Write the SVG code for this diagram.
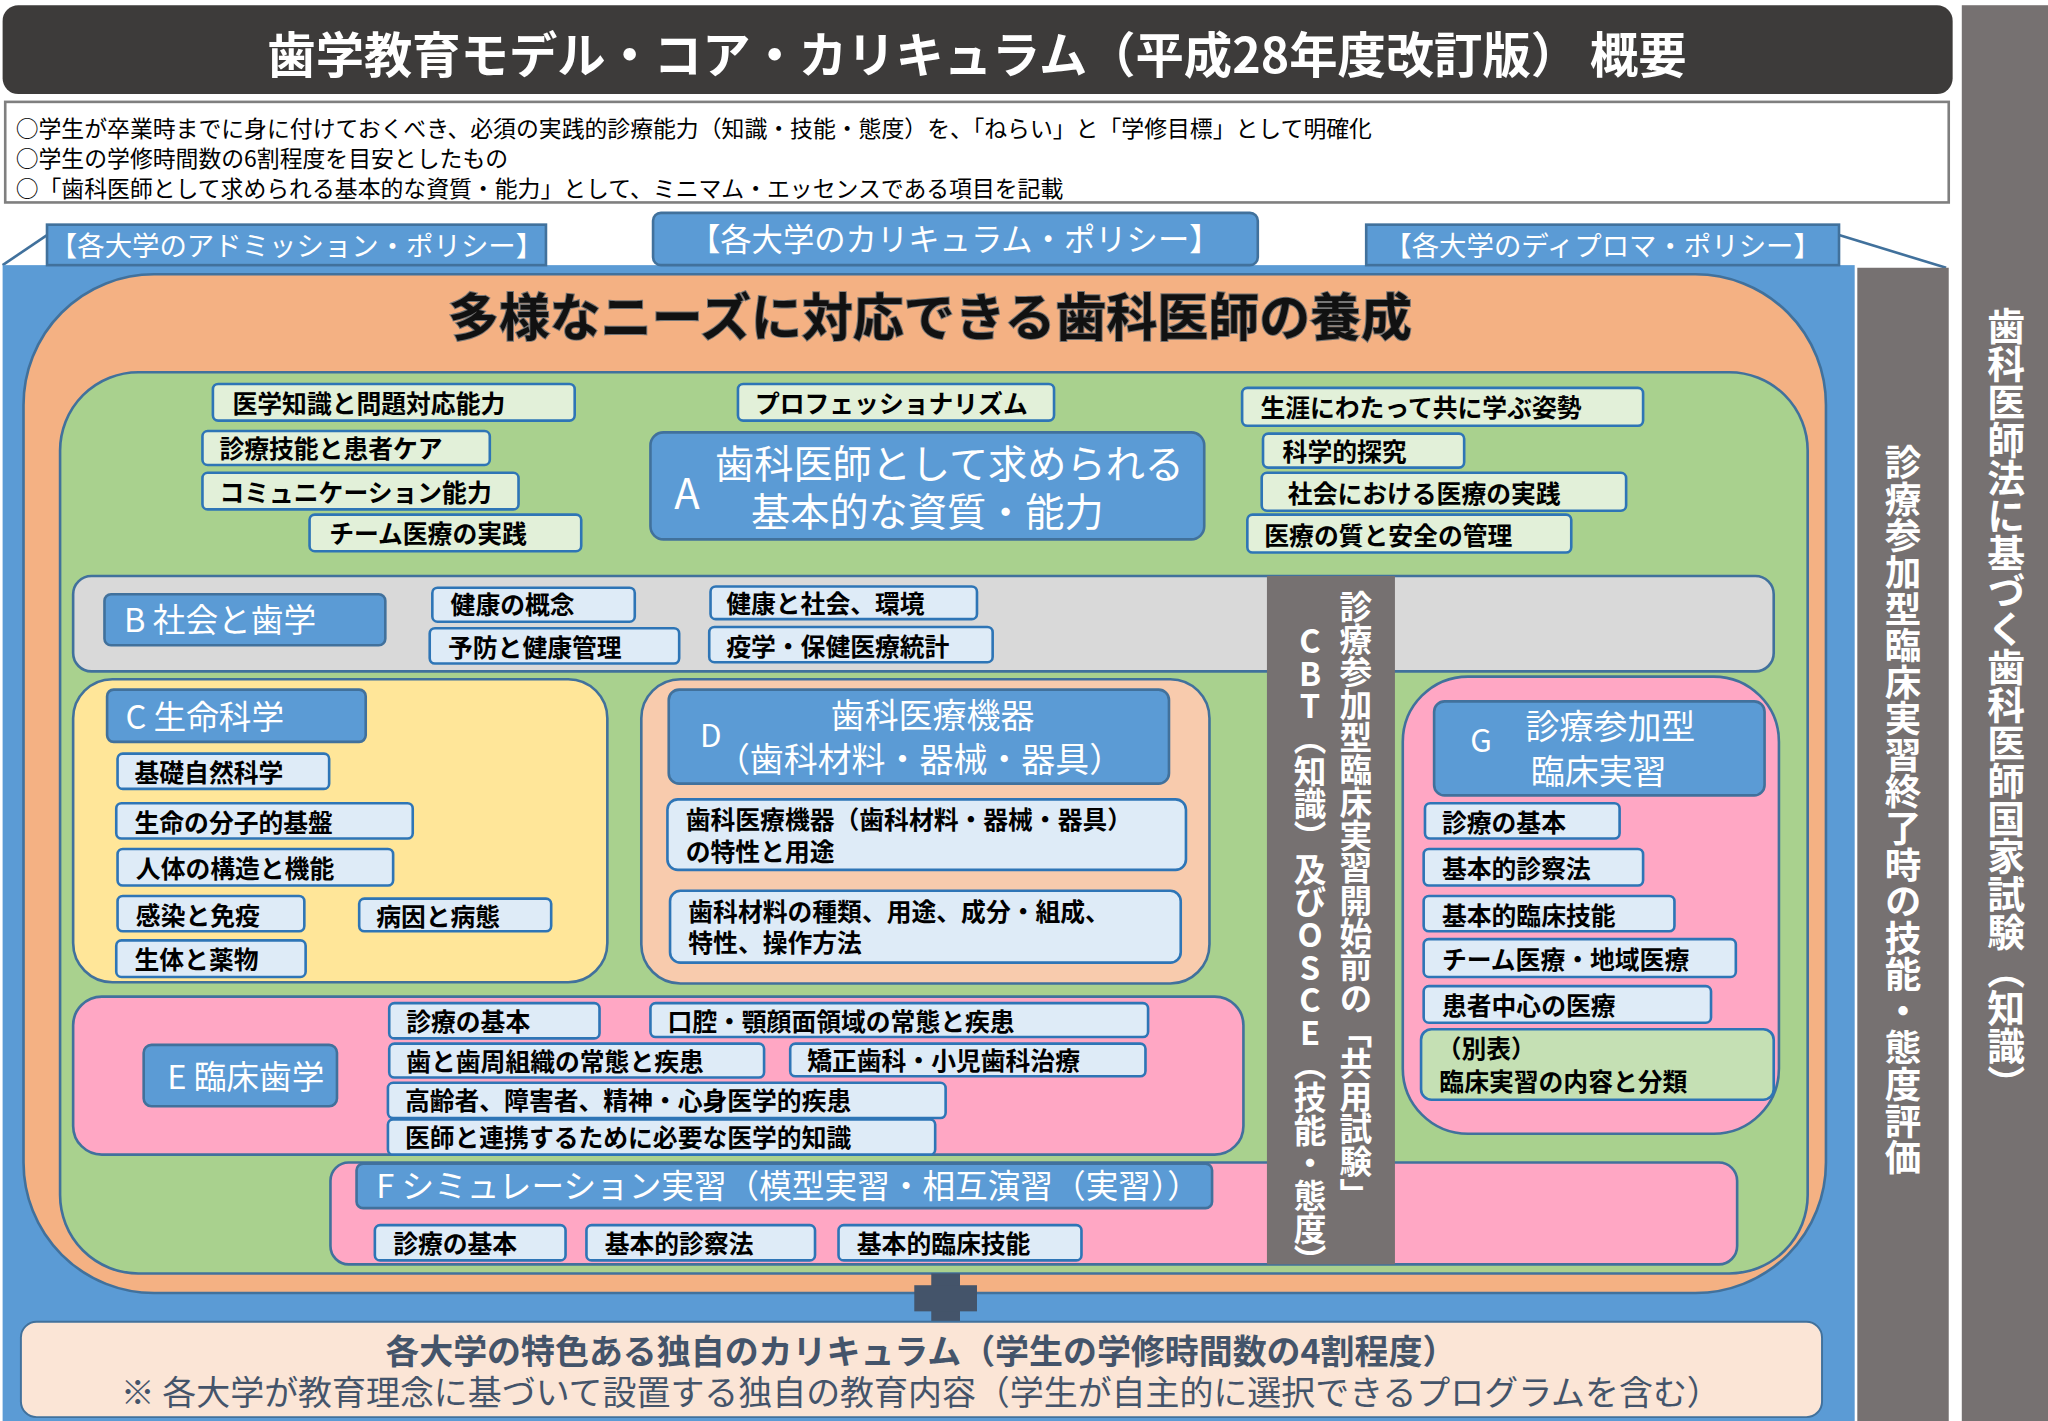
<svg xmlns="http://www.w3.org/2000/svg" width="2048" height="1421" viewBox="0 0 2048 1421">
<style>
text{font-family:"Noto Sans CJK JP","Noto Sans CJK SC",sans-serif}
.it{fill:#deebf7;stroke:#2e75b6;stroke-width:2}
.ig{fill:#e2f0d9;stroke:#2e75b6;stroke-width:2}
.lb{fill:#5b9bd5;stroke:#41719c;stroke-width:2}
.t{font-size:19px;font-weight:bold;fill:#000}
.w{fill:#fff}
.v{writing-mode:vertical-rl;text-orientation:upright;fill:#fff;font-weight:bold}
</style>
<rect width="2048" height="1421" fill="#fff"/>
<g transform="scale(1.30612)">
<g id="title"><rect x="2" y="4" width="1493" height="68" rx="12" fill="#3d3b3a"/>
<text x="748" y="56" font-size="37" font-weight="bold" class="w" text-anchor="middle">歯学教育モデル・コア・カリキュラム（平成28年度改訂版） 概要</text></g>
<g id="national"><rect x="1502" y="4" width="66" height="1084" fill="#767171"/>
<text x="1536" y="235" font-size="29" class="v">歯科医師法に基づく歯科医師国家試験（知識）</text></g>
<g id="info"><rect x="4" y="78" width="1488" height="77" fill="#fff" stroke="#7f7f7f" stroke-width="2"/>
<text x="12" y="105" font-size="17.5">○学生が卒業時までに身に付けておくべき、必須の実践的診療能力（知識・技能・態度）を、「ねらい」と「学修目標」として明確化</text>
<text x="12" y="128" font-size="17.5">○学生の学修時間数の6割程度を目安としたもの</text>
<text x="12" y="151" font-size="17.5">○「歯科医師として求められる基本的な資質・能力」として、ミニマム・エッセンスである項目を記載</text></g>
<g id="connectors" stroke="#41719c" stroke-width="2" fill="none">
<path d="M2 203 L36 180"/><path d="M1408 180 L1490 205"/></g>
<g id="outer"><rect x="2" y="203" width="1418" height="885" fill="#5b9bd5"/></g>
<g id="policies">
<rect x="36" y="172" width="382" height="31" fill="#5b9bd5" stroke="#41719c" stroke-width="2"/>
<text x="227" y="196" font-size="21" class="w" text-anchor="middle">【各大学のアドミッション・ポリシー】</text>
<rect x="500" y="163" width="463" height="40" rx="6" fill="#5b9bd5" stroke="#41719c" stroke-width="2"/>
<text x="731" y="192" font-size="24" class="w" text-anchor="middle">【各大学のカリキュラム・ポリシー】</text>
<rect x="1046" y="172" width="362" height="31" fill="#5b9bd5" stroke="#41719c" stroke-width="2"/>
<text x="1227" y="196" font-size="21" class="w" text-anchor="middle">【各大学のディプロマ・ポリシー】</text></g>
<g id="eval"><rect x="1422" y="205" width="70" height="883" fill="#767171"/>
<text x="1457" y="340" font-size="28" class="v">診療参加型臨床実習終了時の技能・態度評価</text></g>
<g id="orange"><rect x="18" y="210" width="1380" height="780" rx="100" fill="#f4b183" stroke="#41719c" stroke-width="2"/>
<text x="712" y="257" font-size="39" font-weight="bold" text-anchor="middle" fill="#111" style="paint-order:stroke" stroke="#777" stroke-width="1.5">多様なニーズに対応できる歯科医師の養成</text></g>
<g id="green"><rect x="46" y="285" width="1338" height="690" rx="60" fill="#a9d18e" stroke="#41719c" stroke-width="2"/></g>
<g id="A">
<rect x="498" y="331" width="424" height="82" rx="10" class="lb"/>
<text x="526" y="390" font-size="32" class="w" text-anchor="middle">A</text>
<text x="727" y="366" font-size="30" class="w" text-anchor="middle">歯科医師として求められる</text>
<text x="710" y="403" font-size="30" class="w" text-anchor="middle">基本的な資質・能力</text>
<rect x="163" y="294" width="277" height="28" rx="4" class="ig"/><text x="178" y="316" class="t">医学知識と問題対応能力</text>
<rect x="155" y="330" width="220" height="26" rx="4" class="ig"/><text x="168" y="351" class="t">診療技能と患者ケア</text>
<rect x="155" y="362" width="242" height="28" rx="4" class="ig"/><text x="168" y="384" class="t">コミュニケーション能力</text>
<rect x="237" y="394" width="208" height="28" rx="4" class="ig"/><text x="252" y="416" class="t">チーム医療の実践</text>
<rect x="565" y="294" width="242" height="28" rx="4" class="ig"/><text x="578" y="316" class="t">プロフェッショナリズム</text>
<rect x="951" y="297" width="307" height="29" rx="4" class="ig"/><text x="965" y="319" class="t">生涯にわたって共に学ぶ姿勢</text>
<rect x="967" y="332" width="154" height="26" rx="4" class="ig"/><text x="982" y="353" class="t">科学的探究</text>
<rect x="966" y="362" width="279" height="29" rx="4" class="ig"/><text x="986" y="385" class="t">社会における医療の実践</text>
<rect x="955" y="394" width="248" height="29" rx="4" class="ig"/><text x="968" y="417" class="t">医療の質と安全の管理</text></g>
<g id="B">
<rect x="56" y="441" width="1302" height="73" rx="14" fill="#d9d9d9" stroke="#41719c" stroke-width="2"/>
<rect x="80" y="455" width="215" height="39" rx="5" class="lb"/>
<text x="95" y="484" font-size="25" class="w">B  社会と歯学</text>
<rect x="331" y="450" width="155" height="26" rx="4" class="it"/><text x="345" y="470" class="t">健康の概念</text>
<rect x="329" y="481" width="191" height="27" rx="4" class="it"/><text x="343" y="503" class="t">予防と健康管理</text>
<rect x="544" y="449" width="204" height="25" rx="4" class="it"/><text x="556" y="469" class="t">健康と社会、環境</text>
<rect x="543" y="480" width="217" height="27" rx="4" class="it"/><text x="556" y="502" class="t">疫学・保健医療統計</text></g>
<g id="C">
<rect x="56" y="520" width="409" height="232" rx="30" fill="#ffe699" stroke="#41719c" stroke-width="2"/>
<rect x="82" y="528" width="198" height="40" rx="5" class="lb"/>
<text x="96" y="558" font-size="25" class="w">C  生命科学</text>
<rect x="90" y="577" width="162" height="27" rx="4" class="it"/><text x="103" y="599" class="t">基礎自然科学</text>
<rect x="89" y="615" width="227" height="27" rx="4" class="it"/><text x="103" y="637" class="t">生命の分子的基盤</text>
<rect x="90" y="650" width="211" height="28" rx="4" class="it"/><text x="104" y="672" class="t">人体の構造と機能</text>
<rect x="90" y="686" width="143" height="27" rx="4" class="it"/><text x="104" y="708" class="t">感染と免疫</text>
<rect x="275" y="688" width="147" height="25" rx="4" class="it"/><text x="288" y="709" class="t">病因と病態</text>
<rect x="89" y="720" width="145" height="28" rx="4" class="it"/><text x="103" y="742" class="t">生体と薬物</text></g>
<g id="D">
<rect x="491" y="520" width="435" height="233" rx="30" fill="#f8cbad" stroke="#41719c" stroke-width="2"/>
<rect x="512" y="528" width="383" height="72" rx="8" class="lb"/>
<text x="536" y="572" font-size="24" class="w">D</text>
<text x="714" y="557" font-size="26" class="w" text-anchor="middle">歯科医療機器</text>
<text x="704" y="591" font-size="26" class="w" text-anchor="middle">（歯科材料・器械・器具）</text>
<rect x="511" y="612" width="397" height="54" rx="8" class="it"/>
<text x="525" y="635" class="t">歯科医療機器（歯科材料・器械・器具）</text>
<text x="525" y="659" class="t">の特性と用途</text>
<rect x="513" y="682" width="391" height="55" rx="8" class="it"/>
<text x="527" y="705" class="t">歯科材料の種類、用途、成分・組成、</text>
<text x="527" y="729" class="t">特性、操作方法</text></g>
<g id="E">
<rect x="56" y="763" width="896" height="121" rx="22" fill="#ffa7c4" stroke="#41719c" stroke-width="2"/>
<rect x="110" y="800" width="148" height="47" rx="6" class="lb"/>
<text x="128" y="834" font-size="25" class="w">E 臨床歯学</text>
<rect x="298" y="768" width="161" height="27" rx="4" class="it"/><text x="311" y="789" class="t">診療の基本</text>
<rect x="498" y="768" width="381" height="26" rx="4" class="it"/><text x="511" y="789" class="t">口腔・顎顔面領域の常態と疾患</text>
<rect x="298" y="799" width="287" height="26" rx="4" class="it"/><text x="311" y="820" class="t">歯と歯周組織の常態と疾患</text>
<rect x="605" y="799" width="272" height="25" rx="4" class="it"/><text x="618" y="819" class="t">矯正歯科・小児歯科治療</text>
<rect x="297" y="829" width="427" height="27" rx="4" class="it"/><text x="310" y="850" class="t">高齢者、障害者、精神・心身医学的疾患</text>
<rect x="297" y="857" width="419" height="27" rx="4" class="it"/><text x="310" y="878" class="t">医師と連携するために必要な医学的知識</text></g>
<g id="F">
<rect x="253" y="890" width="1077" height="78" rx="14" fill="#ffa7c4" stroke="#41719c" stroke-width="2"/>
<rect x="273" y="891" width="655" height="34" rx="5" class="lb"/>
<text x="288" y="917" font-size="25" class="w">F シミュレーション実習（模型実習・相互演習（実習））</text>
<rect x="287" y="938" width="146" height="27" rx="4" class="it"/><text x="301" y="959" class="t">診療の基本</text>
<rect x="449" y="938" width="175" height="27" rx="4" class="it"/><text x="463" y="959" class="t">基本的診察法</text>
<rect x="642" y="938" width="186" height="27" rx="4" class="it"/><text x="656" y="959" class="t">基本的臨床技能</text></g>
<g id="CBT"><rect x="970" y="441" width="98" height="527" fill="#767171"/>
<text x="1038" y="452" font-size="25" class="v">診療参加型臨床実習開始前の「共用試験」</text>
<text x="1003" y="478" font-size="25" class="v">CBT（知識）及びOSCE（技能・態度）</text></g>
<g id="G">
<rect x="1074" y="518" width="288" height="350" rx="50" fill="#ffa7c4" stroke="#41719c" stroke-width="2"/>
<rect x="1098" y="537" width="253" height="72" rx="8" class="lb"/>
<text x="1134" y="576" font-size="24" class="w" text-anchor="middle">G</text>
<text x="1233" y="566" font-size="26" class="w" text-anchor="middle">診療参加型</text>
<text x="1224" y="600" font-size="26" class="w" text-anchor="middle">臨床実習</text>
<rect x="1091" y="615" width="149" height="27" rx="4" class="it"/><text x="1104" y="637" class="t">診療の基本</text>
<rect x="1090" y="650" width="168" height="28" rx="4" class="it"/><text x="1104" y="672" class="t">基本的診察法</text>
<rect x="1090" y="686" width="192" height="27" rx="4" class="it"/><text x="1104" y="708" class="t">基本的臨床技能</text>
<rect x="1090" y="719" width="239" height="29" rx="4" class="it"/><text x="1104" y="742" class="t">チーム医療・地域医療</text>
<rect x="1090" y="755" width="220" height="28" rx="4" class="it"/><text x="1104" y="777" class="t">患者中心の医療</text>
<rect x="1088" y="788" width="270" height="54" rx="8" fill="#c5e0b4" stroke="#2e75b6" stroke-width="2"/>
<text x="1100" y="810" class="t">（別表）</text>
<text x="1102" y="835" class="t">臨床実習の内容と分類</text></g>
<g id="plus" fill="#44546a"><rect x="713" y="975" width="22" height="50"/><rect x="700" y="984" width="48" height="20"/></g>
<g id="bottom">
<rect x="16" y="1012" width="1379" height="73" rx="12" fill="#fbe5d6" stroke="#41719c" stroke-width="1.5"/>
<text x="705" y="1044" font-size="26" font-weight="bold" fill="#44546a" text-anchor="middle">各大学の特色ある独自のカリキュラム（学生の学修時間数の4割程度）</text>
<text x="705" y="1076" font-size="26" fill="#44546a" text-anchor="middle">※ 各大学が教育理念に基づいて設置する独自の教育内容（学生が自主的に選択できるプログラムを含む）</text></g>
</g>
</svg>
